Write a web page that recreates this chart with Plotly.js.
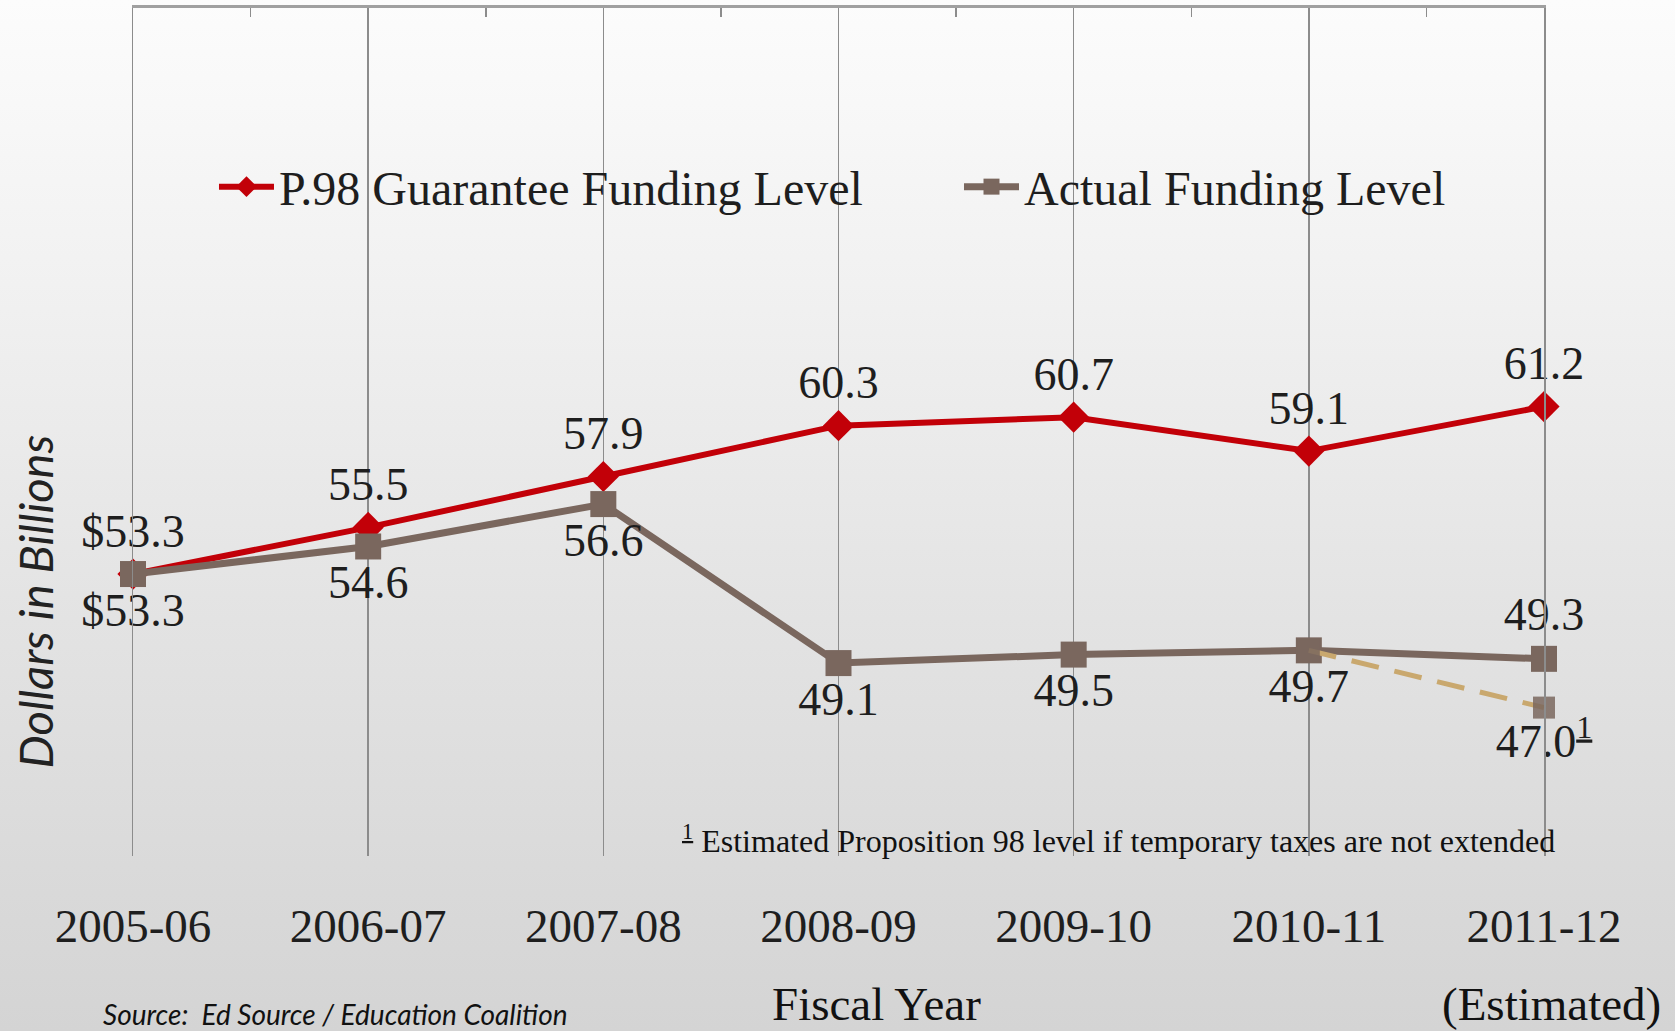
<!DOCTYPE html>
<html>
<head>
<meta charset="utf-8">
<script src="https://cdn.plot.ly/plotly-3.0.1.min.js"></script>
<style>
  html, body { margin: 0; padding: 0; }
  body {
    width: 1675px; height: 1031px; overflow: hidden;
    background: linear-gradient(to bottom, #fcfcfc 0%, #f0f0f0 30%, #e3e3e3 60%, #d4d4d4 100%);
  }
  #chart { width: 1675px; height: 1031px; }
</style>
</head>
<body>
<div id="chart"></div>
<script>
// ---- data ----
const categories = ['2005-06', '2006-07', '2007-08', '2008-09', '2009-10', '2010-11', '2011-12'];
const guaranteeValues = [53.3, 55.5, 57.9, 60.3, 60.7, 59.1, 61.2];
const actualValues = [53.3, 54.6, 56.6, 49.1, 49.5, 49.7, 49.3];
const guaranteeLabels = ['$53.3', '55.5', '57.9', '60.3', '60.7', '59.1', '61.2'];
const actualLabels = ['$53.3', '54.6', '56.6', '49.1', '49.5', '49.7', '49.3'];
const estimatedCategories = ['2010-11', '2011-12'];
const estimatedValues = [49.7, 47.0];
const estimatedLabels = ['', '47.0<sup><u>1</u></sup>'];
const seriesNames = ['P.98 Guarantee Funding Level', 'Actual Funding Level'];

// ---- styles ----
const SERIF = '"Liberation Serif", "Times New Roman", serif';
const SANS = 'Lato, "Open Sans", sans-serif';
const RED = '#c20008';
const BROWN = '#7a675e';
const TAN = '#c9a86e';
const LABEL_FONT = { family: SERIF, size: 46, color: '#1e1e1e' };
const LEGEND_FONT = { family: SERIF, size: 48, color: '#1e1e1e' };

const actualPositions = actualValues.map((v, i) => i === actualValues.length - 1 ? 'top center' : 'bottom center');
// category positions on the overlaid (linear) top axis
const actualIndex = categories.map((c, i) => i);
const estimatedIndex = estimatedCategories.map(c => categories.indexOf(c));

const traces = [
  {
    x: categories, y: guaranteeValues, name: seriesNames[0],
    type: 'scatter', mode: 'lines+markers+text', legend: 'legend',
    line: { color: RED, width: 6 },
    marker: { symbol: 'diamond', size: 24, color: RED },
    text: guaranteeLabels, textposition: 'top center', textfont: LABEL_FONT,
    cliponaxis: false, hoverinfo: 'skip'
  },
  {
    x: actualIndex, y: actualValues, name: seriesNames[1], xaxis: 'x2',
    type: 'scatter', mode: 'lines+markers+text', legend: 'legend2',
    line: { color: BROWN, width: 7 },
    marker: { symbol: 'square', size: 26, color: BROWN },
    text: actualLabels, textposition: actualPositions, textfont: LABEL_FONT,
    cliponaxis: false, hoverinfo: 'skip'
  },
  {
    x: estimatedIndex, y: estimatedValues, name: 'Estimated', xaxis: 'x2',
    type: 'scatter', mode: 'lines+markers+text', showlegend: false,
    line: { color: TAN, width: 5, dash: '28px,16px' },
    marker: { symbol: 'square', size: 22, color: 'rgba(122,103,94,0.85)' },
    text: estimatedLabels, textposition: 'bottom center', textfont: LABEL_FONT,
    cliponaxis: false, hoverinfo: 'skip'
  }
];

const midTicks = categories.slice(1).map((c, i) => i + 0.5);

const legendBase = {
  orientation: 'h', xanchor: 'left', y: 0.789, yanchor: 'middle',
  font: LEGEND_FONT, bgcolor: 'rgba(0,0,0,0)', itemwidth: 55,
  itemclick: false, itemdoubleclick: false
};

const layout = {
  width: 1675, height: 1031,
  margin: { l: 133, r: 131, t: 8, b: 175, pad: 0 },
  paper_bgcolor: 'rgba(0,0,0,0)',
  plot_bgcolor: 'rgba(0,0,0,0)',
  showlegend: true,
  legend: Object.assign({}, legendBase, { x: 0.0574 }),
  legend2: Object.assign({}, legendBase, { x: 0.5854 }),
  xaxis: {
    type: 'category', range: [0, 6], fixedrange: true,
    showgrid: true, gridcolor: '#8c8c8c', gridwidth: 1.5,
    showline: false, zeroline: false, ticks: '',
    ticklabelstandoff: 38,
    tickfont: { family: SERIF, size: 47, color: '#1e1e1e' }
  },
  xaxis2: {
    type: 'linear', overlaying: 'x', anchor: 'y', side: 'top', range: [0, 6], fixedrange: true,
    showline: true, linecolor: '#a0a0a0', linewidth: 3,
    ticks: 'inside', ticklen: 9, tickwidth: 1.5, tickcolor: '#8c8c8c',
    tickmode: 'array', tickvals: midTicks, showticklabels: false,
    showgrid: false, zeroline: false
  },
  yaxis: {
    range: [40, 80], fixedrange: true,
    showgrid: false, zeroline: false, showticklabels: false, ticks: '',
    showline: true, mirror: true, linecolor: '#8c8c8c', linewidth: 1.5
  },
  annotations: [
    { xref: 'paper', yref: 'paper', x: -0.0695, xanchor: 'center', y: 0.3, yanchor: 'middle', textangle: -90,
      text: '<i>Dollars in Billions</i>', showarrow: false,
      font: { family: SANS, size: 47, color: '#222' } },
    { xref: 'paper', yref: 'paper', x: 0.527, xanchor: 'center', y: -0.174, yanchor: 'middle',
      text: 'Fiscal Year', showarrow: false,
      font: { family: SERIF, size: 47, color: '#111' } },
    { xref: 'paper', yref: 'paper', x: 1.005, xanchor: 'center', y: -0.174, yanchor: 'middle',
      text: '(Estimated)', showarrow: false,
      font: { family: SERIF, size: 47, color: '#111' } },
    { xref: 'paper', yref: 'paper', x: -0.0227, xanchor: 'left', y: -0.186, yanchor: 'middle',
      text: '<i>Source:  Ed Source / Education Coalition</i>', showarrow: false,
      font: { family: SANS, size: 28, color: '#111' } },
    { xref: 'paper', yref: 'paper', x: 0.3875, xanchor: 'left', y: 0.02, yanchor: 'middle',
      text: '<sup><u>1</u></sup> Estimated Proposition 98 level if temporary taxes are not extended',
      showarrow: false, font: { family: SERIF, size: 32, color: '#111' } }
  ]
};

Plotly.newPlot('chart', traces, layout, { staticPlot: true, displayModeBar: false });
</script>
</body>
</html>
